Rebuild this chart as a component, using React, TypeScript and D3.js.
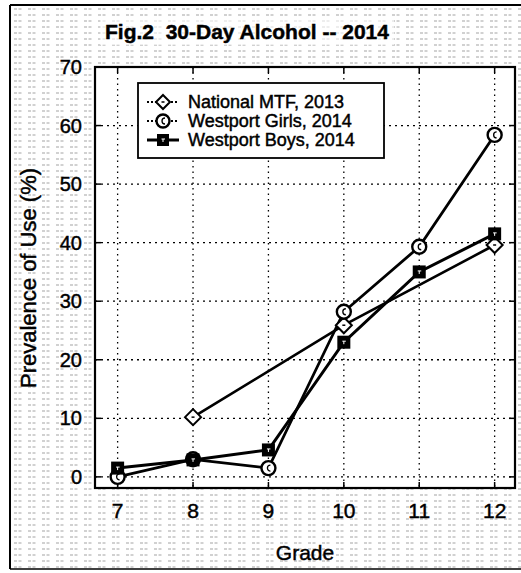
import React from "react";
import * as d3 from "d3";

const grades = [7, 8, 9, 10, 11, 12];
const mtfGrades = [8, 10, 12];
const mtfValues = [10.2, 25.9, 39.6];
const girlsValues = [0, 3, 1.5, 28.2, 39.3, 58.4];
const boysValues = [1.5, 2.9, 4.6, 23.0, 35.0, 41.5];
const yTicks = [0, 10, 20, 30, 40, 50, 60, 70];
const seriesNames = ["National MTF, 2013", "Westport Girls, 2014", "Westport Boys, 2014"];
const title = "Fig.2  30-Day Alcohol -- 2014";
const xLabel = "Grade";
const yLabel = "Prevalence of Use (%)";

const W = 521, H = 573;
const L = 95, R = 515, T = 67, B = 488;
const FONT = "'Liberation Sans', Arial, Helvetica, sans-serif";
const TXT = { stroke: "#000", strokeWidth: 0.45 } as const;

function Diamond({ x, y, s = 8 }: { x: number; y: number; s?: number }) {
  return (
    <g>
      <path d={`M${x},${y - s}L${x + s},${y}L${x},${y + s}L${x - s},${y}Z`} fill="#fff" stroke="#000" strokeWidth={2} />
      <line x1={x - 1.5} x2={x + 1.5} y1={y} y2={y} stroke="#000" strokeWidth={1.5} />
    </g>
  );
}
function Circ({ x, y, r = 7 }: { x: number; y: number; r?: number }) {
  return (
    <g>
      <circle cx={x} cy={y} r={r} fill="#fff" stroke="#000" strokeWidth={2.4} />
      <path d={`M${x + 2},${y - 3}A3,3 0 1,0 ${x + 2},${y + 3}`} fill="none" stroke="#000" strokeWidth={1.3} />
    </g>
  );
}
function Sq({ x, y, s = 6.5 }: { x: number; y: number; s?: number }) {
  return (
    <g>
      <rect x={x - s} y={y - s} width={2 * s} height={2 * s} fill="#000" />
      <line x1={x - 1.5} x2={x + 2} y1={y - 1} y2={y - 1} stroke="#fff" strokeWidth={1} />
      <line x1={x} x2={x} y1={y - 1} y2={y + 2} stroke="#fff" strokeWidth={1} />
    </g>
  );
}

export default function App() {
  const x = d3.scaleLinear().domain([6.7, 12.27]).range([L, R]);
  const y = d3.scaleLinear().domain([-1.9, 70]).range([B, T]);
  const line = d3.line<[number, number]>().x((d) => x(d[0])).y((d) => y(d[1]));
  const mtf: [number, number][] = mtfGrades.map((g, i) => [g, mtfValues[i]]);
  const girls: [number, number][] = grades.map((g, i) => [g, girlsValues[i]]);
  const boys: [number, number][] = grades.map((g, i) => [g, boysValues[i]]);

  const legX = 138, legY = 83, legW = 246, legH = 75;
  const rowY = [102, 121, 140];

  return (
    <svg width={W} height={H} style={{ position: "absolute", left: 0, top: 0 }} fontFamily={FONT}>
      <defs>
        <pattern id="scan" width="14" height="6" patternUnits="userSpaceOnUse">
          <line x1="0" x2="9" y1="3" y2="3" stroke="#666" strokeWidth="1" strokeDasharray="3 1.5" />
        </pattern>
      </defs>
      <rect x={0} y={0} width={W} height={H} fill="#fff" />
      <rect x={10} y={5} width={W - 10} height={564} fill="url(#scan)" opacity={0.6} />
      {/* outer border */}
      <line x1={10} x2={W} y1={5} y2={5} stroke="#000" strokeWidth={2} />
      <line x1={10} x2={10} y1={5} y2={569} stroke="#000" strokeWidth={2} />
      <line x1={10} x2={W} y1={569} y2={569} stroke="#000" strokeWidth={1.5} />

      {/* plot area */}
      <rect x={L} y={T} width={R - L} height={B - T} fill="#fff" />
      {/* grid */}
      {grades.map((g) => (
        <line key={"vx" + g} x1={x(g)} x2={x(g)} y1={T} y2={B} stroke="#000" strokeWidth={1.3} strokeDasharray="1.5 4" />
      ))}
      {yTicks.filter((v) => v < 70).map((v) => (
        <line key={"hy" + v} x1={L} x2={R} y1={y(v)} y2={y(v)} stroke="#000" strokeWidth={1.3} strokeDasharray="2 4" />
      ))}
      {/* frame */}
      <rect x={L} y={T} width={R - L} height={B - T} fill="none" stroke="#000" strokeWidth={2.2} />
      {/* ticks */}
      {yTicks.map((v) => (
        <g key={"ty" + v}>
          <line x1={L} x2={L + 6} y1={y(v)} y2={y(v)} stroke="#000" strokeWidth={1.5} />
          <line x1={R} x2={R - 6} y1={y(v)} y2={y(v)} stroke="#000" strokeWidth={1.5} />
          <text x={82} y={y(v)} textAnchor="end" dominantBaseline="central" fontSize={20} {...TXT}>{v}</text>
        </g>
      ))}
      {grades.map((g) => (
        <g key={"tx" + g}>
          <line x1={x(g)} x2={x(g)} y1={B} y2={B - 6} stroke="#000" strokeWidth={1.5} />
          <line x1={x(g)} x2={x(g)} y1={T} y2={T + 6} stroke="#000" strokeWidth={1.5} />
          <text x={x(g)} y={510} textAnchor="middle" dominantBaseline="central" fontSize={21} {...TXT}>{g}</text>
        </g>
      ))}

      {/* lines */}
      <path d={line(mtf) || ""} fill="none" stroke="#000" strokeWidth={2.6} />
      <path d={line(girls) || ""} fill="none" stroke="#000" strokeWidth={2.8} />
      <path d={line(boys) || ""} fill="none" stroke="#000" strokeWidth={3} />
      {mtf.map((d, i) => <Diamond key={"m" + i} x={x(d[0])} y={y(d[1])} />)}
      {girls.map((d, i) => <Circ key={"g" + i} x={x(d[0])} y={y(d[1])} />)}
      {boys.map((d, i) => <Sq key={"b" + i} x={x(d[0])} y={y(d[1])} />)}

      {/* legend */}
      <rect x={legX} y={legY} width={legW} height={legH} fill="#fff" stroke="#000" strokeWidth={1.8} />
      {seriesNames.map((n, i) => (
        <g key={"l" + i}>
          <line x1={147} x2={179} y1={rowY[i]} y2={rowY[i]} stroke="#000" strokeWidth={i === 2 ? 3 : 2} strokeDasharray={i === 2 ? undefined : "2 2"} />
          {i === 0 && <Diamond x={163} y={rowY[i]} s={7} />}
          {i === 1 && <Circ x={163} y={rowY[i]} r={6.5} />}
          {i === 2 && <Sq x={163} y={rowY[i]} s={6} />}
          <text x={188} y={rowY[i]} dominantBaseline="central" fontSize={18} {...TXT}>{n}</text>
        </g>
      ))}

      {/* titles */}
      <rect x={100} y={17} width={294} height={28} fill="#fff" opacity={0.6} />
      <text x={247} y={31} textAnchor="middle" dominantBaseline="central" fontSize={21} fontWeight="bold" xmlSpace="preserve" {...TXT}>{title}</text>
      <text x={(L + R) / 2} y={552} textAnchor="middle" dominantBaseline="central" fontSize={21} {...TXT}>{xLabel}</text>
      <text transform={`translate(36,${278}) rotate(-90)`} textAnchor="middle" fontSize={22} {...TXT}>{yLabel}</text>
    </svg>
  );
}
